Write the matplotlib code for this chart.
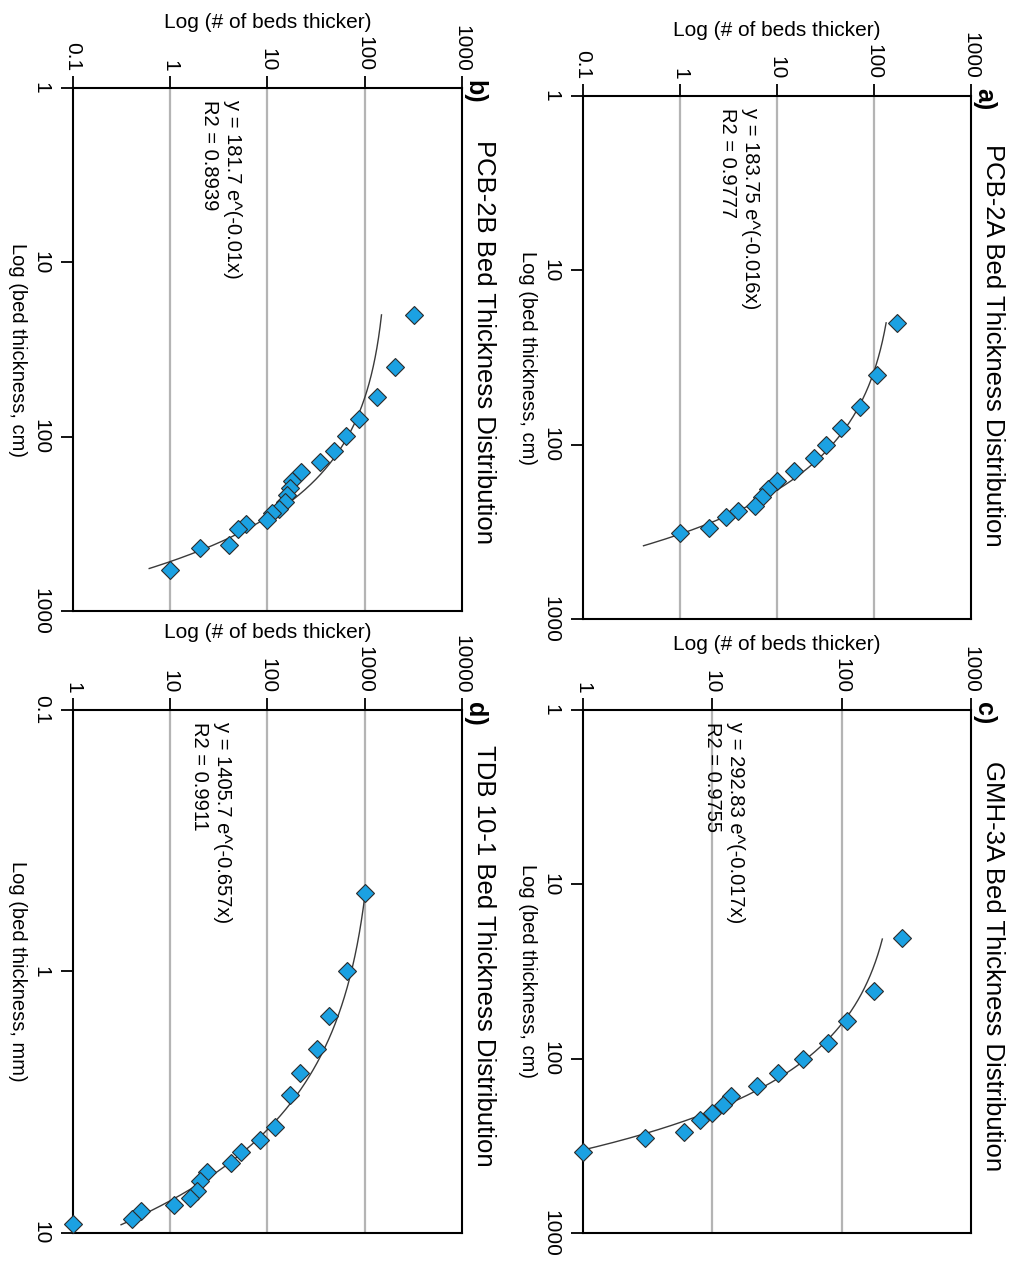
import numpy as np
from matplotlib import pyplot as plt

plt.rcParams['font.family'] = ['Liberation Sans', 'DejaVu Sans']
plt.rcParams['font.size'] = 14

# a) PCB-2A, thickness in cm vs number of beds thicker
a_thick = [20, 40, 61, 80, 100, 120, 142, 162, 180, 199, 225, 240, 261, 302, 323]
a_count = [173, 107, 71, 46, 32, 24, 15, 10, 8, 7, 6, 4, 3, 2, 1]
a_fit = (183.75, -0.016, 20, 380)

# b) PCB-2B
b_thick = [20, 40, 59, 79, 99, 120, 140, 160, 180, 198, 215, 237, 260, 275, 301,
           318, 339, 419, 437, 583]
b_count = [319, 204, 134, 88, 64, 48, 35, 22, 18, 17, 16, 15, 13, 11, 10,
           6, 5, 4, 2, 1]
b_fit = (181.7, -0.01, 20, 570)

# c) GMH-3A
c_thick = [20.4, 41, 60.5, 81.5, 101, 121, 143, 163, 184, 204, 224, 264, 286, 344]
c_count = [292, 179, 110, 78, 50, 32, 22, 14, 12, 10, 8, 6, 3, 1]
c_fit = (292.83, -0.017, 20.6, 345)

# d) TDB 10-1, thickness in mm
d_thick = [0.5, 1.0, 1.48, 1.98, 2.45, 2.97, 3.92, 4.4, 4.91, 5.41, 5.87, 6.31,
           6.88, 7.35, 7.85, 8.27, 8.84, 9.22]
d_count = [997, 655, 426, 323, 217, 170, 119, 84, 54, 42, 24, 20, 19, 16, 11, 5, 4, 1]
d_fit = (1405.7, -0.657, 0.5, 9.3)

count_ticks_ab = [0.1, 1, 10, 100, 1000]
count_labels_ab = ['0.1', '1', '10', '100', '1000']
count_ticks_c = [1, 10, 100, 1000]
count_labels_c = ['1', '10', '100', '1000']
count_ticks_d = [1, 10, 100, 1000, 10000]
count_labels_d = ['1', '10', '100', '1000', '10000']
thick_ticks_cm = [1, 10, 100, 1000]
thick_labels_cm = ['1', '10', '100', '1000']
thick_ticks_mm = [0.1, 1, 10]
thick_labels_mm = ['0.1', '1', '10']

fig = plt.figure(figsize=(10.18, 12.62), dpi=100)


def panel(rect, thick, count, fit, cticks, clabels, tticks, tlabels, tname,
          title, letter, eq, r2, eq_x, title_y):
    ax = fig.add_axes(rect)
    ax.set_xscale('log')
    ax.set_yscale('log')
    ax.set_xlim(cticks[0], cticks[-1])
    ax.set_ylim(tticks[-1], tticks[0])
    for v in cticks[1:-1]:
        ax.axvline(v, color='#b4b4b4', lw=1.6, zorder=0)
    A, k, lo, hi = fit
    t = np.geomspace(lo, hi, 300)
    ax.plot(A * np.exp(k * t), t, color='#3a3a3a', lw=1.0, zorder=2)
    ax.plot(count, thick, 'D', ms=9, mfc='#1ba1e2', mec='#2b2b2b', mew=0.8,
            clip_on=False, zorder=3)
    ax.xaxis.tick_top()
    ax.xaxis.set_label_position('top')
    ax.set_xticks(cticks, clabels, rotation=-90)
    ax.set_yticks(tticks, tlabels, rotation=-90, va='center')
    ax.minorticks_off()
    ax.tick_params(length=9, width=1.3, labelsize=15)
    ax.tick_params(axis='x', pad=3)
    ax.tick_params(axis='y', pad=7)
    for s in ax.spines.values():
        s.set_linewidth(1.5)
    ax.set_xlabel('Log (# of beds thicker)', fontsize=15, labelpad=-2.5)
    ax.set_ylabel(tname, fontsize=14.5, rotation=-90, va='center', labelpad=10)
    ax.text(eq_x, 0.978, eq + '\n' + r2, transform=ax.transAxes, rotation=-90,
            ha='center', va='top', ma='left', fontsize=14.5, linespacing=1.3)
    ax.text(1.057, title_y, title, transform=ax.transAxes, rotation=-90,
            ha='center', va='center', fontsize=18.5)
    ax.text(1.033, 1.016, letter, transform=ax.transAxes, rotation=-90,
            ha='center', va='top', fontsize=18, fontweight='bold')
    return ax


panel([0.5727, 0.5095, 0.3811, 0.4144], a_thick, a_count, a_fit,
      count_ticks_ab, count_labels_ab, thick_ticks_cm, thick_labels_cm,
      'Log (bed thickness, cm)', 'PCB-2A Bed Thickness Distribution', 'a)',
      'y = 183.75 e^(-0.016x)', 'R2 = 0.9777', 0.402, 0.524)
panel([0.0717, 0.5158, 0.3821, 0.4144], b_thick, b_count, b_fit,
      count_ticks_ab, count_labels_ab, thick_ticks_cm, thick_labels_cm,
      'Log (bed thickness, cm)', 'PCB-2B Bed Thickness Distribution', 'b)',
      'y = 181.7 e^(-0.01x)', 'R2 = 0.8939', 0.38, 0.515)
panel([0.5727, 0.0230, 0.3811, 0.4144], c_thick, c_count, c_fit,
      count_ticks_c, count_labels_c, thick_ticks_cm, thick_labels_cm,
      'Log (bed thickness, cm)', 'GMH-3A Bed Thickness Distribution', 'c)',
      'y = 292.83 e^(-0.017x)', 'R2 = 0.9755', 0.363, 0.51)
panel([0.0717, 0.0230, 0.3821, 0.4144], d_thick, d_count, d_fit,
      count_ticks_d, count_labels_d, thick_ticks_mm, thick_labels_mm,
      'Log (bed thickness, mm)', 'TDB 10-1 Bed Thickness Distribution', 'd)',
      'y = 1405.7 e^(-0.657x)', 'R2 = 0.9911', 0.355, 0.53)

fig.savefig('out.png', dpi=100)
